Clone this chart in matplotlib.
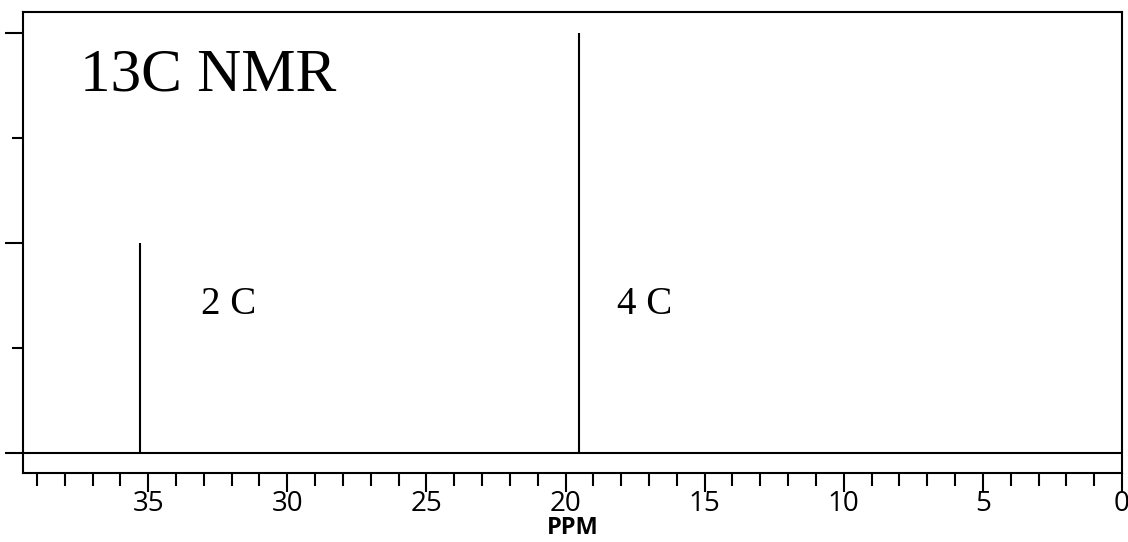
import matplotlib
matplotlib.use("Agg")
import matplotlib.pyplot as plt
from matplotlib.ticker import MultipleLocator, NullFormatter

# peak positions (ppm) and relative intensities
shifts = [35.3, 19.5]
heights = [50, 100]
labels = ["2 C", "4 C"]
label_ppm = [33.1, 18.15]
label_y = [33, 33]

fig = plt.figure(figsize=(11.28, 5.42), dpi=100)
ax = fig.add_axes([23 / 1128, 1 - 473 / 542, (1122 - 23) / 1128, (473 - 12) / 542])

lw = 1.5
ax.vlines(shifts, 0, heights, color="black", lw=lw)
ax.axhline(0, color="black", lw=lw)

ax.set_xlim(39.5, 0)
ax.set_ylim(-4.8, 105)

ax.xaxis.set_major_locator(MultipleLocator(5))
ax.xaxis.set_minor_locator(MultipleLocator(1))
ax.yaxis.set_major_locator(MultipleLocator(50))
ax.yaxis.set_minor_locator(MultipleLocator(25))
ax.yaxis.set_major_formatter(NullFormatter())

ax.tick_params(axis="x", which="major", direction="out", length=14, width=lw,
               labelsize=20, pad=-2)
ax.tick_params(axis="x", which="minor", direction="out", length=9, width=lw)
ax.tick_params(axis="y", which="major", direction="out", length=13, width=lw)
ax.tick_params(axis="y", which="minor", direction="out", length=8, width=lw)
for lab in ax.get_xticklabels():
    lab.set_family("Open Sans")

for s in ax.spines.values():
    s.set_linewidth(lw)

ax.set_xlabel("PPM", fontsize=17, fontweight="bold", family="Open Sans", labelpad=-1)

ax.text(37.45, 86.4, "13C NMR", family="Liberation Serif", fontsize=44,
        va="baseline", ha="left")
for t, x, y in zip(labels, label_ppm, label_y):
    ax.text(x, y, t, family="Liberation Serif", fontsize=28, va="baseline", ha="left")

fig.savefig("out.png", dpi=100)
